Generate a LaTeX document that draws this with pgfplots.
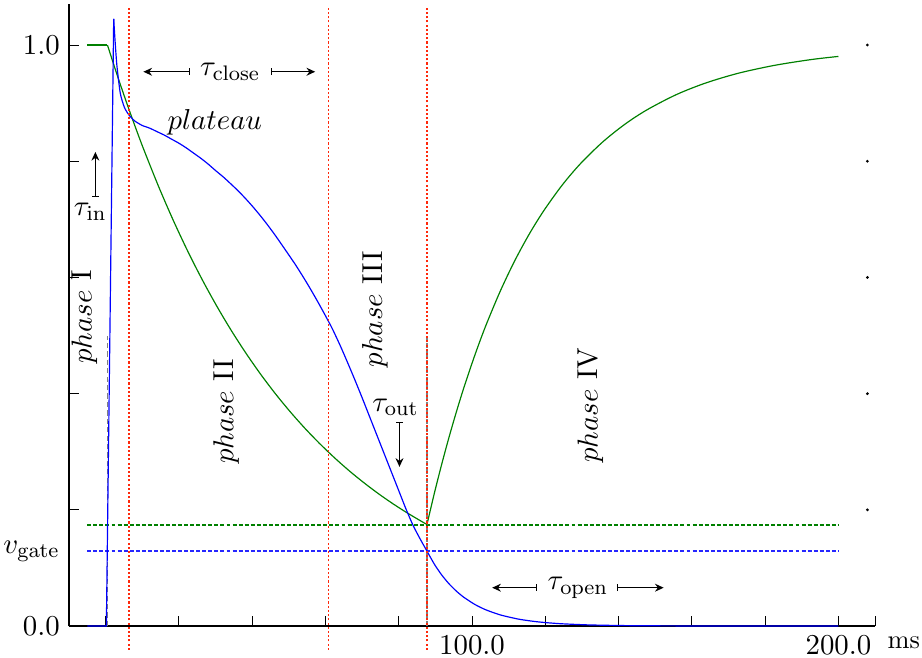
\documentclass[border=0pt]{standalone}
\usepackage{pgfplots}
\pgfplotsset{compat=1.18}
\usetikzlibrary{arrows.meta}
\definecolor{mplgreen}{rgb}{0,0.5,0}
\definecolor{vred}{RGB}{255,40,10}

\tikzset{tauarrow/.style={{Bar[width=2.6pt]}-{Stealth[length=3.3pt,width=3pt]}, line width=0.5pt, black}}

\begin{document}
\begin{tikzpicture}[font=\fontsize{10.95}{13}\selectfont]
\begin{axis}[
    x=1.3923pt, y=220.78pt,
    xmin=-10, xmax=210,
    ymin=0, ymax=1.07,
    axis lines*=left,
    axis line style={line width=0.5pt},
    tick align=inside,
    major tick length=3.9pt,
    tick style={black, line width=0.4pt},
    tick label style={font=\fontsize{10.95}{13}\selectfont},
    xtick={0,20,40,60,80,100,120,140,160,180,200,210},
    xticklabels={,,,,,100.0,,,,,200.0,},
    ytick={0,0.2,0.4,0.6,0.8,1.0},
    yticklabels={0.0,,,,,1.0},
    extra y ticks={0.129},
    extra y tick labels={$v_{\mathrm{gate}}$},
    extra y tick style={major tick length=0pt},
    clip=false,
]

% threshold lines
\addplot[mplgreen, line width=0.45pt, dash pattern=on 1.5pt off 0.8pt] coordinates {(-5,0.174) (200,0.174)};
\addplot[blue!85!white, line width=0.5pt, dash pattern=on 1.5pt off 0.8pt] coordinates {(-5,0.129) (200,0.129)};

% grey markers of phase I / IV start
\addplot[gray, line width=0.7pt, dash pattern=on 2pt off 1.2pt] coordinates {(0.5,0) (0.5,0.5)};
\addplot[gray, line width=0.7pt, dash pattern=on 2pt off 1.2pt] coordinates {(87.7,0) (87.7,0.5)};

% green trace: flat, closing, opening
\addplot[mplgreen, line width=0.45pt] coordinates {(-5,1) (0.5,1)};
\addplot[mplgreen, line width=0.45pt, smooth] coordinates {
(0.5,1) (2.5,0.9608) (4.5,0.9231) (6.5,0.8869) (8.5,0.8521) (10.5,0.8187)
(14.5,0.7558) (18.5,0.6977) (22.5,0.6440) (26.5,0.5945) (30.5,0.5488) (34.5,0.5066)
(38.5,0.4677) (42.5,0.4317) (46.5,0.3985) (50.5,0.3679) (54.5,0.3396) (58.5,0.3135)
(62.5,0.2894) (66.5,0.2671) (70.5,0.2466) (74.5,0.2276) (78.5,0.2101) (82.5,0.1940)
(86.5,0.1791) (87.7,0.1748)
};
\addplot[mplgreen, line width=0.45pt, smooth] coordinates {
(87.7,0.1748) (89.7,0.2282) (91.7,0.2780) (93.7,0.3246) (95.7,0.3681)
(97.7,0.4089) (100.7,0.4651) (103.7,0.5161) (107.7,0.5764) (111.7,0.6293) (115.7,0.6756)
(119.7,0.7160) (124.7,0.7597) (129.7,0.7966) (135.7,0.8334) (141.7,0.8636) (147.7,0.8883)
(155.7,0.9145) (163.7,0.9345) (172.7,0.9515) (182.7,0.9652) (192.7,0.9751) (200,0.9804)
};

% blue trace: onset, then plateau and decay
\addplot[blue, line width=0.45pt] coordinates {(-5,0) (0.2,0) (2.2,1.045)};
\addplot[blue, line width=0.45pt, smooth, tension=0.4] coordinates {
(2.2,1.045) (2.65,1.0) (3.1,0.963) (4.0,0.917) (5.1,0.893) (6.3,0.880)
(7,0.875) (8,0.869) (10,0.8615) (12,0.857) (14,0.851) (16,0.845) (18,0.838)
(20,0.831) (22,0.823) (24,0.814) (26,0.805) (28,0.795) (30,0.784) (32.1,0.773)
(34,0.762) (36,0.750) (38,0.737) (40,0.723) (42,0.708) (44,0.692) (46,0.675)
(48,0.657) (50.4,0.635) (52,0.620) (54,0.600) (56,0.579) (58,0.557) (60,0.534)
(61.1,0.521) (62,0.510) (64,0.483) (66,0.454) (68,0.424) (70,0.393) (72,0.361)
(74,0.329) (76,0.297) (78,0.265) (80,0.233) (82,0.201) (84,0.172) (86,0.148)
(87.7,0.129) (89.7,0.1066) (91.7,0.0881) (93.7,0.0728) (95.7,0.0602)
(97.7,0.0498) (100.7,0.0374) (103.7,0.0281) (107.7,0.0192) (112.7,0.0119) (117.7,0.0074)
(123.7,0.0042) (131.7,0.0020) (142.7,0.0007) (157.7,0.0002) (175,0) (200,0)
};

% phase boundaries
\addplot[vred, line width=0.6pt, dash pattern=on 0.8pt off 0.8pt] coordinates {(6.3,-0.041) (6.3,1.064)};
\addplot[vred, line width=0.6pt, dash pattern=on 0.8pt off 0.8pt] coordinates {(60.8,-0.041) (60.8,1.064)};
\addplot[vred, line width=0.6pt, dash pattern=on 0.8pt off 0.8pt] coordinates {(87.7,-0.041) (87.7,1.064)};

% small right-hand tick dots
\addplot[only marks, mark=*, mark size=0.3pt, black] coordinates {(207.9,0.2) (207.9,0.4) (207.9,0.6) (207.9,0.8) (207.9,1.0)};

% annotations
\node at (axis cs:34.0,0.954) {$\tau_{\mathrm{close}}$};
\draw[tauarrow] (axis cs:23.1,0.954) -- (axis cs:10.3,0.954);
\draw[tauarrow] (axis cs:45.0,0.954) -- (axis cs:57.2,0.954);
\node at (axis cs:29.8,0.867) {$plateau$};
\node at (axis cs:-4.2,0.713) {$\tau_{\mathrm{in}}$};
\draw[tauarrow] (axis cs:-2.8,0.738) -- (axis cs:-2.8,0.816);
\node at (axis cs:79.1,0.376) {$\tau_{\mathrm{out}}$};
\draw[tauarrow] (axis cs:80.2,0.351) -- (axis cs:80.2,0.274);
\node at (axis cs:128.9,0.066) {$\tau_{\mathrm{open}}$};
\draw[tauarrow] (axis cs:117.7,0.066) -- (axis cs:105.5,0.066);
\draw[tauarrow] (axis cs:139.6,0.066) -- (axis cs:152.3,0.066);

\node[rotate=90] at (axis cs:-5.8,0.532) {$phase$ I};
\node[rotate=90] at (axis cs:32.9,0.369) {$phase$ II};
\node[rotate=90] at (axis cs:73.5,0.545) {$phase$ III};
\node[rotate=90] at (axis cs:132.3,0.380) {$phase$ IV};

\node[anchor=base west, inner sep=0pt, font=\normalsize] at (axis cs:213.3,-0.0379) {ms};

\coordinate (bbll) at (axis cs:-28.83,-0.0534);
\coordinate (bbur) at (axis cs:222.8,1.0775);
\end{axis}
\pgfresetboundingbox
\useasboundingbox (bbll) rectangle (bbur);
\end{tikzpicture}
\end{document}
